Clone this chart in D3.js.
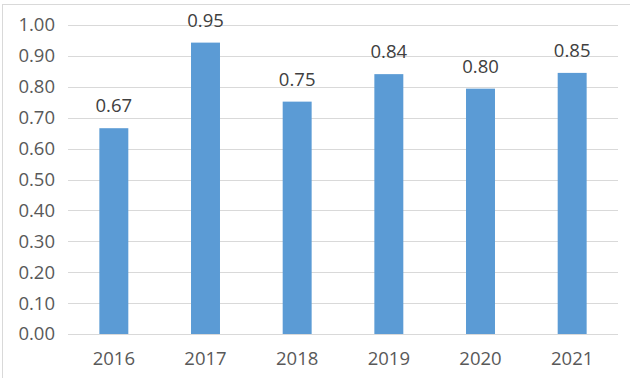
<!DOCTYPE html>
<html>
<head>
<meta charset="utf-8">
<script src="https://cdn.jsdelivr.net/npm/d3@7"></script>
<style>
  body { margin: 0; background: #fff; }
  svg { display: block; }
</style>
</head>
<body>
<div id="chart"></div>
<script>
// data
var years = ['2016', '2017', '2018', '2019', '2020', '2021']
var values = [0.666, 0.943, 0.752, 0.841, 0.794, 0.845]
var valueLabels = ['0.67', '0.95', '0.75', '0.84', '0.80', '0.85']
var yTicks = [0, 0.1, 0.2, 0.3, 0.4, 0.5, 0.6, 0.7, 0.8, 0.9, 1.0]

var width_all = 630,
  height_all = 378
var margin = { top: 25, right: 12, bottom: 44, left: 68 }
var width = width_all - margin.left - margin.right,
  height = height_all - margin.top - margin.bottom

var svg = d3
  .select('#chart')
  .append('svg')
  .attr('width', width_all)
  .attr('height', height_all)

// outer chart frame
svg
  .append('rect')
  .attr('x', 2.5)
  .attr('y', 4.5)
  .attr('width', width_all + 10)
  .attr('height', height_all + 10)
  .attr('fill', 'none')
  .attr('stroke', '#d9d9d9')

var g = svg
  .append('g')
  .attr('transform', 'translate(' + margin.left + ',' + margin.top + ')')
  .attr('font-family', '"Open Sans", "Noto Sans", sans-serif')
  .attr('font-size', 18.5)
  .attr('fill', '#595959')

var x = d3
  .scaleBand()
  .domain(years)
  .range([0, width])
  .paddingInner(0.684)
  .paddingOuter(0.342)

var y = d3.scaleLinear().domain([0, 1]).range([height, 0])

// gridlines
g.selectAll('.grid')
  .data(yTicks)
  .enter()
  .append('line')
  .attr('x1', 0)
  .attr('x2', width)
  .attr('y1', d => Math.round(y(d)) + 0.5)
  .attr('y2', d => Math.round(y(d)) + 0.5)
  .attr('stroke', '#d9d9d9')
  .attr('stroke-width', 1)

// y tick labels
g.selectAll('.ytick')
  .data(yTicks)
  .enter()
  .append('text')
  .attr('x', -13)
  .attr('y', d => y(d))
  .attr('dy', '0.35em')
  .attr('text-anchor', 'end')
  .text(d => d3.format('.2f')(d))

// bars
g.selectAll('.bar')
  .data(values)
  .enter()
  .append('rect')
  .attr('x', (d, i) => x(years[i]))
  .attr('y', d => y(d))
  .attr('width', x.bandwidth())
  .attr('height', d => height - y(d))
  .attr('fill', '#5b9bd5')

// value labels
g.selectAll('.vlabel')
  .data(values)
  .enter()
  .append('text')
  .attr('x', (d, i) => x(years[i]) + x.bandwidth() / 2)
  .attr('y', d => y(d) - 16)
  .attr('text-anchor', 'middle')
  .attr('fill', '#404040')
  .text((d, i) => valueLabels[i])

// x labels
g.selectAll('.xlabel')
  .data(years)
  .enter()
  .append('text')
  .attr('x', d => x(d) + x.bandwidth() / 2)
  .attr('y', height + 31)
  .attr('text-anchor', 'middle')
  .text(d => d)
</script>
</body>
</html>
